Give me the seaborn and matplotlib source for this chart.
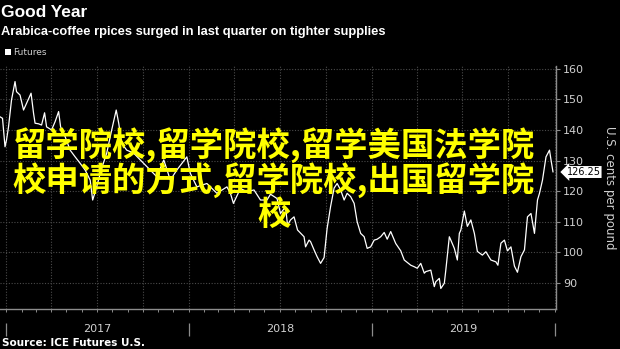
import matplotlib
matplotlib.use("Agg")
import matplotlib.pyplot as plt
import matplotlib.dates as mdates
import pandas as pd
import seaborn as sns

# Arabica coffee front-month futures, U.S. cents per pound
dates = [
    "2016-12-20", "2016-12-25", "2016-12-30", "2017-01-02", "2017-01-06", "2017-01-12",
    "2017-01-19", "2017-01-22", "2017-01-29", "2017-02-05", "2017-02-11", "2017-02-20",
    "2017-02-25", "2017-02-28", "2017-03-07", "2017-03-13", "2017-03-19", "2017-03-23",
    "2017-04-02", "2017-04-09", "2017-04-16", "2017-04-20", "2017-04-29", "2017-05-09",
    "2017-05-19", "2017-05-29", "2017-06-08", "2017-06-18", "2017-06-23", "2017-07-01",
    "2017-07-10", "2017-07-21", "2017-07-31", "2017-08-09", "2017-08-14", "2017-08-20",
    "2017-08-30", "2017-09-13", "2017-09-26", "2017-10-16", "2017-10-29", "2017-11-12",
    "2017-11-25", "2017-12-08", "2017-12-28", "2018-01-04", "2018-01-17", "2018-02-06",
    "2018-02-26", "2018-03-18", "2018-03-25", "2018-03-31", "2018-04-14", "2018-04-27",
    "2018-05-11", "2018-05-24", "2018-06-06", "2018-06-13", "2018-06-26", "2018-07-03",
    "2018-07-13", "2018-07-17", "2018-07-23", "2018-07-30", "2018-08-06", "2018-08-19",
    "2018-08-22", "2018-08-29", "2018-09-01", "2018-09-08", "2018-09-14", "2018-09-21",
    "2018-09-28", "2018-10-04", "2018-10-11", "2018-10-18", "2018-10-24", "2018-10-31",
    "2018-11-07", "2018-11-13", "2018-11-20", "2018-11-27", "2018-12-03", "2018-12-10",
    "2018-12-17", "2018-12-23", "2018-12-30", "2019-01-06", "2019-01-12", "2019-01-19",
    "2019-01-26", "2019-02-01", "2019-02-08", "2019-02-18", "2019-02-28", "2019-03-07",
    "2019-03-20", "2019-03-27", "2019-04-02", "2019-04-09", "2019-04-16", "2019-04-19",
    "2019-04-29", "2019-05-06", "2019-05-09", "2019-05-16", "2019-05-19", "2019-05-26",
    "2019-05-29", "2019-06-05", "2019-06-08", "2019-06-15", "2019-06-21", "2019-06-25",
    "2019-06-28", "2019-07-05", "2019-07-11", "2019-07-18", "2019-07-25", "2019-07-31",
    "2019-08-10", "2019-08-17", "2019-08-27", "2019-09-06", "2019-09-10", "2019-09-16",
    "2019-09-23", "2019-09-29", "2019-10-06", "2019-10-13", "2019-10-19", "2019-10-26",
    "2019-11-02", "2019-11-08", "2019-11-15", "2019-11-22", "2019-11-28", "2019-12-02",
    "2019-12-08", "2019-12-15", "2019-12-22", "2019-12-25", "2019-12-29",
]
prices = [
    144.3, 143.8, 134.5, 136.7, 141.0, 149.8,
    155.8, 152.5, 151.4, 146.5, 148.7, 152.0,
    145.4, 142.2, 142.0, 141.6, 145.6, 141.0,
    140.0, 142.7, 146.0, 141.0, 137.8, 133.4,
    131.2, 129.1, 126.9, 123.6, 117.1, 121.4,
    127.0, 132.4, 140.0, 146.5, 142.2, 135.6,
    133.4, 132.4, 130.2, 126.9, 124.7, 130.2,
    123.6, 126.9, 131.2, 125.8, 121.4, 122.5,
    119.3, 121.4, 119.3, 116.0, 120.9, 119.8,
    120.4, 117.1, 117.1, 119.0, 117.6, 112.7,
    114.9, 108.9, 110.6, 111.6, 107.3, 105.1,
    101.8, 104.0, 103.5, 100.8, 98.6, 96.4,
    98.3, 107.8, 115.0, 121.0, 122.5, 120.4,
    117.1, 119.3, 118.2, 116.0, 110.0, 106.2,
    105.1, 101.3, 101.8, 104.0, 104.3, 105.1,
    106.5, 104.3, 106.8, 102.9, 100.5, 97.5,
    95.8, 95.3, 94.8, 96.4, 93.2, 93.7,
    94.2, 88.8, 90.4, 91.5, 88.2, 89.9,
    94.2, 105.1, 104.0, 101.3, 97.5, 106.2,
    107.3, 113.5, 108.5, 110.6, 106.2, 100.3,
    99.1, 100.2, 97.5, 96.9, 95.8, 103.0,
    104.0, 100.5, 101.8, 95.5, 93.5, 98.6,
    100.8, 111.6, 112.7, 106.2, 117.1, 119.3,
    123.6, 131.2, 133.4, 130.2, 126.25,
]
y_ticks = [90, 100, 110, 120, 130, 140, 150, 160]
years = ["2017", "2018", "2019"]

title = "Good Year"
subtitle = "Arabica-coffee rpices surged in last quarter on tighter supplies"
series_name = "Futures"
source = "Source: ICE Futures U.S."
unit = "U.S. cents per pound"
overlay = "留学院校,留学院校,留学美国法学院\n校申请的方式,留学院校,出国留学院\n校"

df = pd.DataFrame({"date": pd.to_datetime(dates), "price": prices})

sns.set_theme(style="dark")
plt.rcParams["font.family"] = ["DejaVu Sans"]

BG = "#000000"
GRID = "#4a4a4a"
AXIS = "#8c8c8c"
LABEL = "#d0d0d0"
HEAD_FONT = ["Liberation Sans", "DejaVu Sans"]

fig = plt.figure(figsize=(6.2, 3.49), dpi=100, facecolor=BG)
ax = fig.add_axes([0.0, 0.1138, 0.8968, 0.6985], facecolor=BG)

sns.lineplot(data=df, x="date", y="price", ax=ax, color="white", linewidth=0.9)

ax.set_xlim(pd.Timestamp("2016-12-20"), pd.Timestamp("2020-01-04"))
ax.set_ylim(81.4, 161.05)

# right-hand value axis
ax.yaxis.tick_right()
ax.set_yticks(y_ticks)
ax.set_yticklabels([str(t) for t in y_ticks])
ax.tick_params(axis="y", which="both", right=True, left=False, length=3, width=0.8,
               colors=AXIS, labelcolor=LABEL, labelsize=8, pad=2)
ax.set_ylabel("")
ax.text(1.096, 0.5, unit, transform=ax.transAxes, rotation=270, ha="center",
        va="center", color=LABEL, fontsize=8.5)

# time axis: monthly ticks, quarterly grid, year labels
ax.xaxis.set_major_locator(mdates.MonthLocator(bymonth=[1, 4, 7, 10]))
ax.xaxis.set_minor_locator(mdates.MonthLocator())
ax.set_xticklabels([])
ax.set_xlabel("")
ax.tick_params(axis="x", which="both", bottom=True, length=2.5, width=0.7,
               colors=AXIS, labelbottom=False)

ax.grid(True, which="major", axis="both", color=GRID, linestyle=(0, (1, 1.5)),
        linewidth=0.8)

for side in ["left", "top"]:
    ax.spines[side].set_visible(False)
ax.spines["right"].set_color(AXIS)
ax.spines["bottom"].set_color(AXIS)
ax.spines["right"].set_linewidth(1.0)
ax.spines["bottom"].set_linewidth(1.0)

xt = ax.get_xaxis_transform()   # x in dates, y in axes fraction
yt = ax.get_yaxis_transform()   # x in axes fraction, y in prices
year_starts = pd.to_datetime([f"{y}-01-01" for y in years] + ["2020-01-01"])
ax.vlines(year_starts, -0.109, -0.056, transform=xt, colors=AXIS, linewidth=0.9,
          clip_on=False)
for y in years:
    ax.text(pd.Timestamp(f"{y}-07-02"), -0.081, y, transform=xt, ha="center",
            va="center", color=LABEL, fontsize=8)

# last-value tag
last_val = prices[-1]
ax.annotate(f"{last_val:.2f}", xy=(1.0, last_val), xycoords=yt,
            xytext=(1.019, last_val), textcoords=yt,
            ha="left", va="center", fontsize=7, color="black",
            bbox=dict(boxstyle="larrow,pad=0.1", fc="white", ec="none"))

# header and footer
fig.text(0.002, 0.963, title, ha="left", va="center", color="white",
         fontsize=12.5, fontweight="bold", family=HEAD_FONT)
fig.text(0.002, 0.908, subtitle, ha="left", va="center", color="white",
         fontsize=9.3, fontweight="bold", family=HEAD_FONT)
fig.patches.append(plt.Rectangle((0.008, 0.843), 0.0097, 0.0172, transform=fig.transFigure,
                                 facecolor="white", edgecolor="none"))
fig.text(0.021, 0.851, series_name, ha="left", va="center", color=LABEL, fontsize=6.5)
fig.text(0.004, 0.017, source, ha="left", va="center", color="white",
         fontsize=7.5, fontweight="bold")

# yellow overlay text
fig.text(0.442, 0.485, overlay, ha="center", va="center", color="#ffff00",
         fontsize=24, linespacing=1.0, multialignment="center",
         family=["Noto Sans CJK SC", "DejaVu Sans"], fontweight="bold")

fig.savefig("out.png", dpi=100, facecolor=BG)
